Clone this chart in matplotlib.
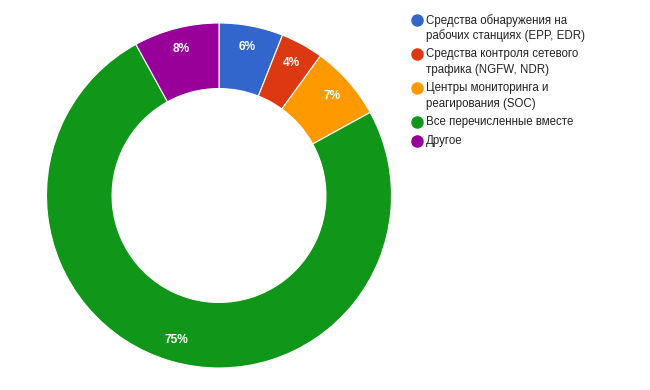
import matplotlib.pyplot as plt
from matplotlib.lines import Line2D

labels = ["Средства обнаружения на\nрабочих станциях (EPP, EDR)",
          "Средства контроля сетевого\nтрафика (NGFW, NDR)",
          "Центры мониторинга и\nреагирования (SOC)",
          "Все перечисленные вместе",
          "Другое"]
values = [6, 4, 7, 75, 8]
colors = ["#3366CC", "#DC3912", "#FF9900", "#109618", "#990099"]

plt.rcParams['font.family'] = ['Liberation Sans', 'DejaVu Sans']

W, H = 650, 390
fig = plt.figure(figsize=(6.5, 3.9), dpi=100)

# donut: center (219, 195.5) px, radius 172.5 px
cx, cy, r = 219, 195.5, 172.5
ax = fig.add_axes([(cx - r) / W, (H - cy - r) / H, 2 * r / W, 2 * r / H])
wedges, texts = ax.pie(values, colors=colors, startangle=90, counterclock=False,
                       radius=1, labels=[f"{v}%" for v in values], labeldistance=0.875,
                       wedgeprops=dict(width=0.38, edgecolor="white", linewidth=0.8))
for t in texts:
    t.set_color("white")
    t.set_fontweight("bold")
    t.set_fontsize(8.6)
    t.set_ha("center")
    t.set_va("center")
ax.set_xlim(-1, 1)
ax.set_ylim(-1, 1)
ax.set_aspect("equal")
ax.axis("off")

# legend drawn by hand, one text per line
y = 20
for lab, col in zip(labels, colors):
    lines = lab.split("\n")
    fig.add_artist(Line2D([417 / W], [1 - y / H], marker="o", markersize=8,
                          color=col, linestyle="none", transform=fig.transFigure))
    for i, ln in enumerate(lines):
        fig.text(426 / W, 1 - (y + 15.5 * i + 0.5) / H, ln, fontsize=8.3,
                 color="#222222", va="center", ha="left")
    y += 15.5 * (len(lines) - 1) + 18.5

fig.savefig("out.png", dpi=100)
